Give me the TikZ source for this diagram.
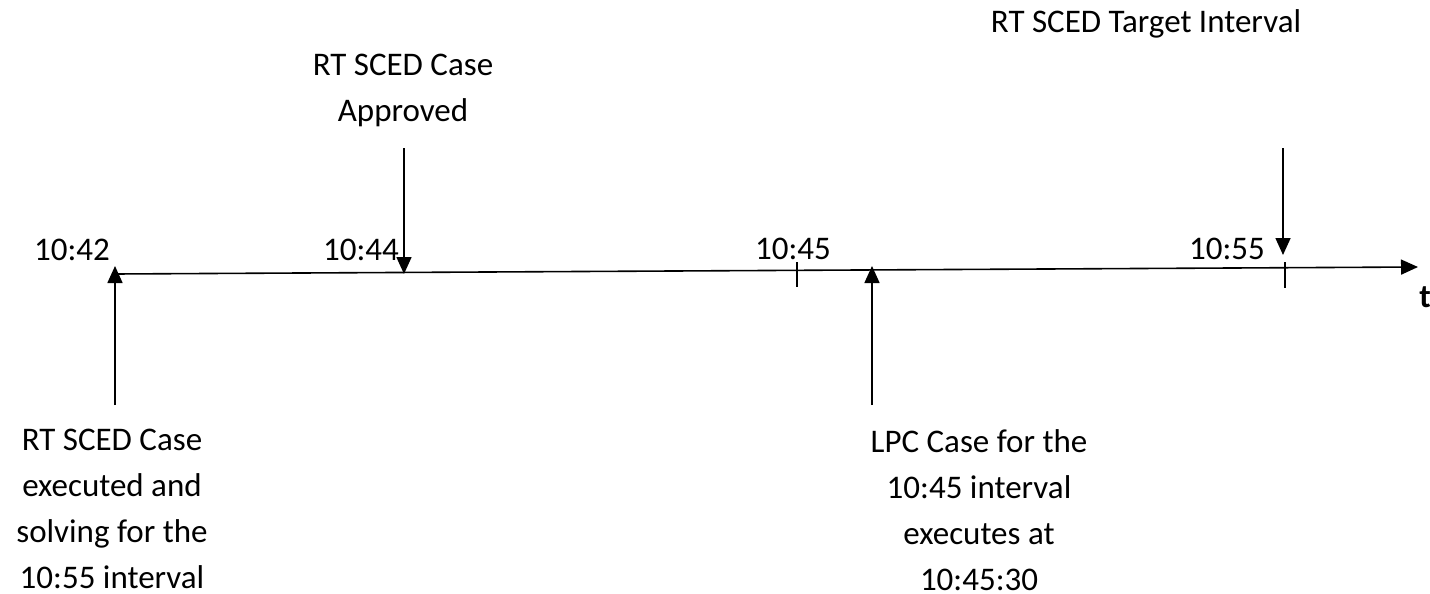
\documentclass[tikz,border=0pt]{standalone}
\usepackage{fontspec}
\setmainfont{Carlito}
\usetikzlibrary{arrows.meta,positioning}
\tikzset{
lbl/.style={font=\fontsize{33}{46}\selectfont,align=center,inner sep=0pt},
ptr/.style={line width=1.6pt,-{Triangle[width=15pt,length=17pt]}},
tickmark/.style={line width=1.6pt}
}
\begin{document}
\begin{tikzpicture}[x=1pt,y=-1pt]
\useasboundingbox (0,0) rectangle (1430,594);
{
% time axis
\coordinate (axL) at (115,274);
\coordinate (axR) at (1418,267);
\draw[ptr] (axL)--(axR);
\node[lbl,font=\fontsize{33}{46}\selectfont\bfseries] (tlab) at (1425,297) {t};
%
\draw[tickmark] (797,262)--(797,287);
\draw[tickmark] (1285,262)--(1285,288);
%
\node[lbl] (t42) at (72,250) {10:42};
\node[lbl] (t44) at (361,250) {10:44};
\node[lbl] (t45) at (793,249) {10:45};
\node[lbl] (t55) at (1227,249) {10:55};
%
\node[lbl,anchor=north] (approved) at (403,54) {RT SCED Case\\Approved};
\node[lbl,anchor=north] (target) at (1146,9) {RT SCED Target Interval};
\node[lbl,anchor=north] (executed) at (112,429) {RT SCED Case\\executed and\\solving for the\\10:55 interval};
\node[lbl,anchor=north] (lpc) at (979,429) {LPC Case for the\\10:45 interval\\executes at\\10:45:30};
%
\coordinate (exeFoot) at (115,405);
\coordinate (exeTip) at (115,266);
\coordinate (aprFoot) at (404,148);
\coordinate (aprTip) at (404,274);
\coordinate (lpcFoot) at (872,405);
\coordinate (lpcTip) at (872,266);
\coordinate (tgtFoot) at (1283,148);
\coordinate (tgtTip) at (1283,255);
\draw[ptr] (exeFoot)--(exeTip);
\draw[ptr] (aprFoot)--(aprTip);
\draw[ptr] (lpcFoot)--(lpcTip);
\draw[ptr] (tgtFoot)--(tgtTip);
}
\end{tikzpicture}
\end{document}
